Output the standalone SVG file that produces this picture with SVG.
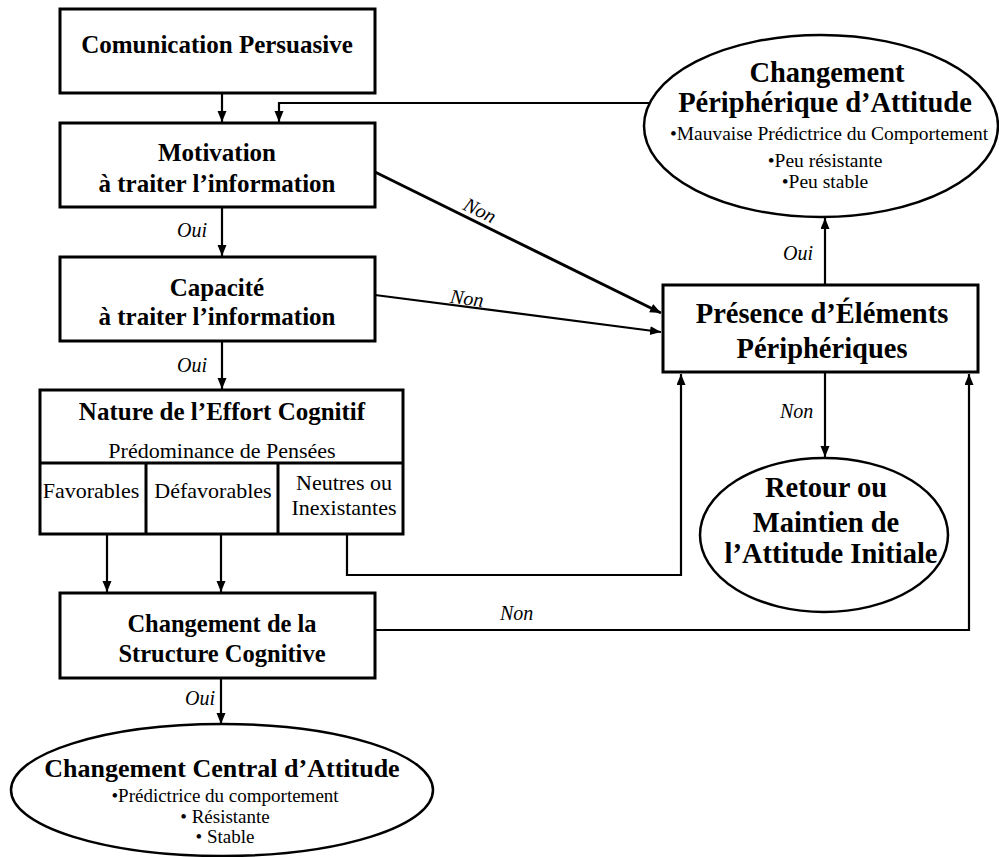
<svg xmlns="http://www.w3.org/2000/svg" width="999" height="857" viewBox="0 0 999 857">
<defs>
<marker id="ah" markerUnits="userSpaceOnUse" markerWidth="12" markerHeight="10" refX="11" refY="4.5" orient="auto">
<path d="M0,0 L11,4.5 L0,9 z" fill="#000"/>
</marker>
<style>
.box{fill:#fff;stroke:#000;stroke-width:3}
.ell{fill:#fff;stroke:#000;stroke-width:2.5}
.cell{fill:none;stroke:#000;stroke-width:3}
.b{font-family:"Liberation Serif","Times New Roman",serif;font-weight:bold;fill:#000;text-anchor:middle}
.r{font-family:"Liberation Serif","Times New Roman",serif;fill:#000;text-anchor:middle}
.lbl{font-family:"Liberation Serif","Times New Roman",serif;font-style:italic;font-size:20px;fill:#000}
.c{fill:none;stroke:#000;stroke-width:2.2;marker-end:url(#ah)}
.c3{fill:none;stroke:#000;stroke-width:3;marker-end:url(#ah)}
</style>
</defs>
<rect width="999" height="857" fill="#fff"/>

<g id="connectors">
<path class="c" d="M222 93 V122"/>
<path class="c" d="M653 103 H279 V122"/>
<path class="c" d="M222 207 V256"/>
<path class="c" d="M222 341 V389"/>
<path class="c" d="M107 534 V592"/>
<path class="c" d="M221 534 V592"/>
<path class="c" d="M347 534 V575 H681 V374"/>
<path class="c" d="M221 678 V724"/>
<path class="c" d="M375 630 H969 V374"/>
<path class="c3" d="M375 172 L661 313"/>
<path class="c" d="M375 295 L661 332"/>
<path class="c" d="M825 285 V218"/>
<path class="c" d="M825 372 V457"/>
<text class="lbl" x="177" y="237">Oui</text>
<text class="lbl" x="177" y="372">Oui</text>
<text class="lbl" x="185" y="705">Oui</text>
<text class="lbl" x="783" y="260">Oui</text>
<text class="lbl" x="780" y="418">Non</text>
<text class="lbl" x="500" y="620">Non</text>
<text class="lbl" x="480" y="217" text-anchor="middle" transform="rotate(26.3 480 210)">Non</text>
<text class="lbl" x="467" y="305" text-anchor="middle" transform="rotate(7.4 467 298)">Non</text>
</g>

<g id="comunication">
<rect class="box" x="60" y="9" width="315" height="84"/>
<text class="b" x="217" y="53" font-size="25">Comunication Persuasive</text>
</g>

<g id="motivation">
<rect class="box" x="60" y="123" width="315" height="84"/>
<text class="b" x="217" y="161" font-size="25">Motivation</text>
<text class="b" x="217" y="192" font-size="25">à traiter l’information</text>
</g>

<g id="capacite">
<rect class="box" x="60" y="257" width="315" height="84"/>
<text class="b" x="217" y="296" font-size="25">Capacité</text>
<text class="b" x="217" y="325" font-size="25">à traiter l’information</text>
</g>

<g id="nature">
<rect class="box" x="40" y="390" width="363" height="144"/>
<path class="cell" d="M40 463 H403 M146 463 V534 M278 463 V534"/>
<text class="b" x="222" y="420" font-size="25">Nature de l’Effort Cognitif</text>
<text class="r" x="222" y="458" font-size="22">Prédominance de Pensées</text>
<text class="r" x="91" y="498" font-size="22">Favorables</text>
<text class="r" x="213" y="498" font-size="22">Défavorables</text>
<text class="r" x="344" y="490" font-size="22">Neutres ou</text>
<text class="r" x="344" y="515" font-size="22">Inexistantes</text>
</g>

<g id="structure">
<rect class="box" x="60" y="593" width="315" height="85"/>
<text class="b" x="222" y="632" font-size="24.5">Changement de la</text>
<text class="b" x="222" y="662" font-size="24.5">Structure Cognitive</text>
</g>

<g id="central">
<ellipse class="ell" cx="222" cy="790" rx="211" ry="66"/>
<text class="b" x="222" y="777" font-size="26">Changement Central d’Attitude</text>
<text class="r" x="225" y="802" font-size="19">•Prédictrice du comportement</text>
<text class="r" x="225" y="823" font-size="19">• Résistante</text>
<text class="r" x="225" y="843" font-size="19">• Stable</text>
</g>

<g id="peripherique">
<ellipse class="ell" cx="821" cy="126" rx="177" ry="91"/>
<text class="b" x="827" y="82" font-size="28.5">Changement</text>
<text class="b" x="825" y="112" font-size="28.5">Périphérique d’Attitude</text>
<text class="r" x="829" y="140" font-size="19.5">•Mauvaise Prédictrice du Comportement</text>
<text class="r" x="825" y="167" font-size="19.5">•Peu résistante</text>
<text class="r" x="825" y="188" font-size="19.5">•Peu stable</text>
</g>

<g id="presence">
<rect class="box" x="663" y="285" width="315" height="87"/>
<text class="b" x="822" y="323" font-size="28.5">Présence d’Éléments</text>
<text class="b" x="822" y="358" font-size="28.5">Périphériques</text>
</g>

<g id="retour">
<ellipse class="ell" cx="824" cy="535" rx="124" ry="77"/>
<text class="b" x="826" y="497" font-size="28.5">Retour ou</text>
<text class="b" x="826" y="532" font-size="28.5">Maintien de</text>
<text class="b" x="831" y="563" font-size="28.5">l’Attitude Initiale</text>
</g>
</svg>
